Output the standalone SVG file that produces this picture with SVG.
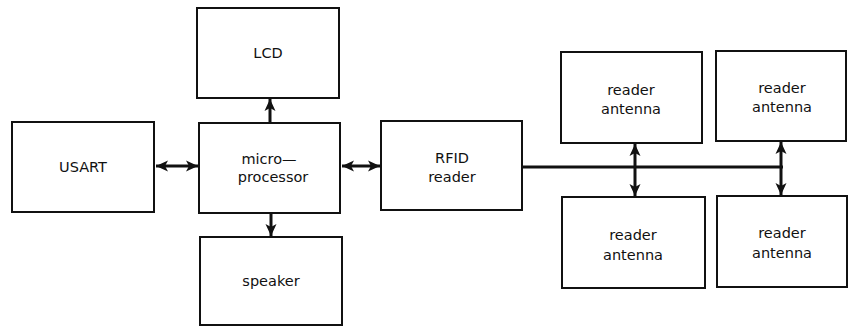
<svg xmlns="http://www.w3.org/2000/svg" width="848" height="327" viewBox="0 0 848 327">
<style>
.box{fill:#fff;stroke:#111;stroke-width:2}
.lbl{font-family:"DejaVu Sans",sans-serif;font-size:14.5px;fill:#111;text-anchor:middle}
.con{stroke:#111;stroke-width:3;fill:none}
</style>
<defs>
<marker id="ah" markerUnits="userSpaceOnUse" markerWidth="13" markerHeight="13" viewBox="0 0 13 13" refX="12" refY="6.5" orient="auto-start-reverse">
<path d="M0,1 L12,6.5 L0,12 L3,6.5 Z" fill="#111"/>
</marker>
</defs>
<rect width="848" height="327" fill="#fff"/>
<g id="connectors">
<line class="con" x1="156" y1="166" x2="198" y2="166" marker-start="url(#ah)" marker-end="url(#ah)"/>
<line class="con" x1="342" y1="166" x2="380" y2="166" marker-start="url(#ah)" marker-end="url(#ah)"/>
<line class="con" x1="270" y1="122" x2="270" y2="99" marker-end="url(#ah)"/>
<line class="con" x1="271" y1="214" x2="271" y2="236" marker-end="url(#ah)"/>
<line class="con" x1="522" y1="167" x2="783" y2="167"/>
<line class="con" x1="635" y1="167" x2="635" y2="144" marker-end="url(#ah)"/>
<line class="con" x1="635" y1="167" x2="635" y2="196" marker-end="url(#ah)"/>
<line class="con" x1="781" y1="167" x2="781" y2="142" marker-end="url(#ah)"/>
<line class="con" x1="781" y1="167" x2="781" y2="195" marker-end="url(#ah)"/>
</g>
<g id="lcd">
<rect class="box" x="197" y="8" width="142" height="90"/>
<text class="lbl" x="268" y="58">LCD</text>
</g>
<g id="usart">
<rect class="box" x="12" y="122" width="142" height="90"/>
<text class="lbl" x="83" y="172">USART</text>
</g>
<g id="microprocessor">
<rect class="box" x="199" y="123" width="141" height="90"/>
<text class="lbl" x="269" y="164">micro—</text>
<text class="lbl" x="273" y="182">processor</text>
</g>
<g id="speaker">
<rect class="box" x="200" y="237" width="142" height="88"/>
<text class="lbl" x="271" y="286">speaker</text>
</g>
<g id="rfid">
<rect class="box" x="381" y="121" width="141" height="89"/>
<text class="lbl" x="452" y="163">RFID</text>
<text class="lbl" x="452" y="182">reader</text>
</g>
<g id="antenna1">
<rect class="box" x="561" y="52" width="141" height="91"/>
<text class="lbl" x="631" y="95">reader</text>
<text class="lbl" x="631" y="114">antenna</text>
</g>
<g id="antenna2">
<rect class="box" x="716" y="51" width="130" height="90"/>
<text class="lbl" x="782" y="93">reader</text>
<text class="lbl" x="782" y="112">antenna</text>
</g>
<g id="antenna3">
<rect class="box" x="562" y="197" width="143" height="91"/>
<text class="lbl" x="633" y="240">reader</text>
<text class="lbl" x="633" y="260">antenna</text>
</g>
<g id="antenna4">
<rect class="box" x="717" y="196" width="130" height="91"/>
<text class="lbl" x="782" y="238">reader</text>
<text class="lbl" x="782" y="258">antenna</text>
</g>
</svg>
